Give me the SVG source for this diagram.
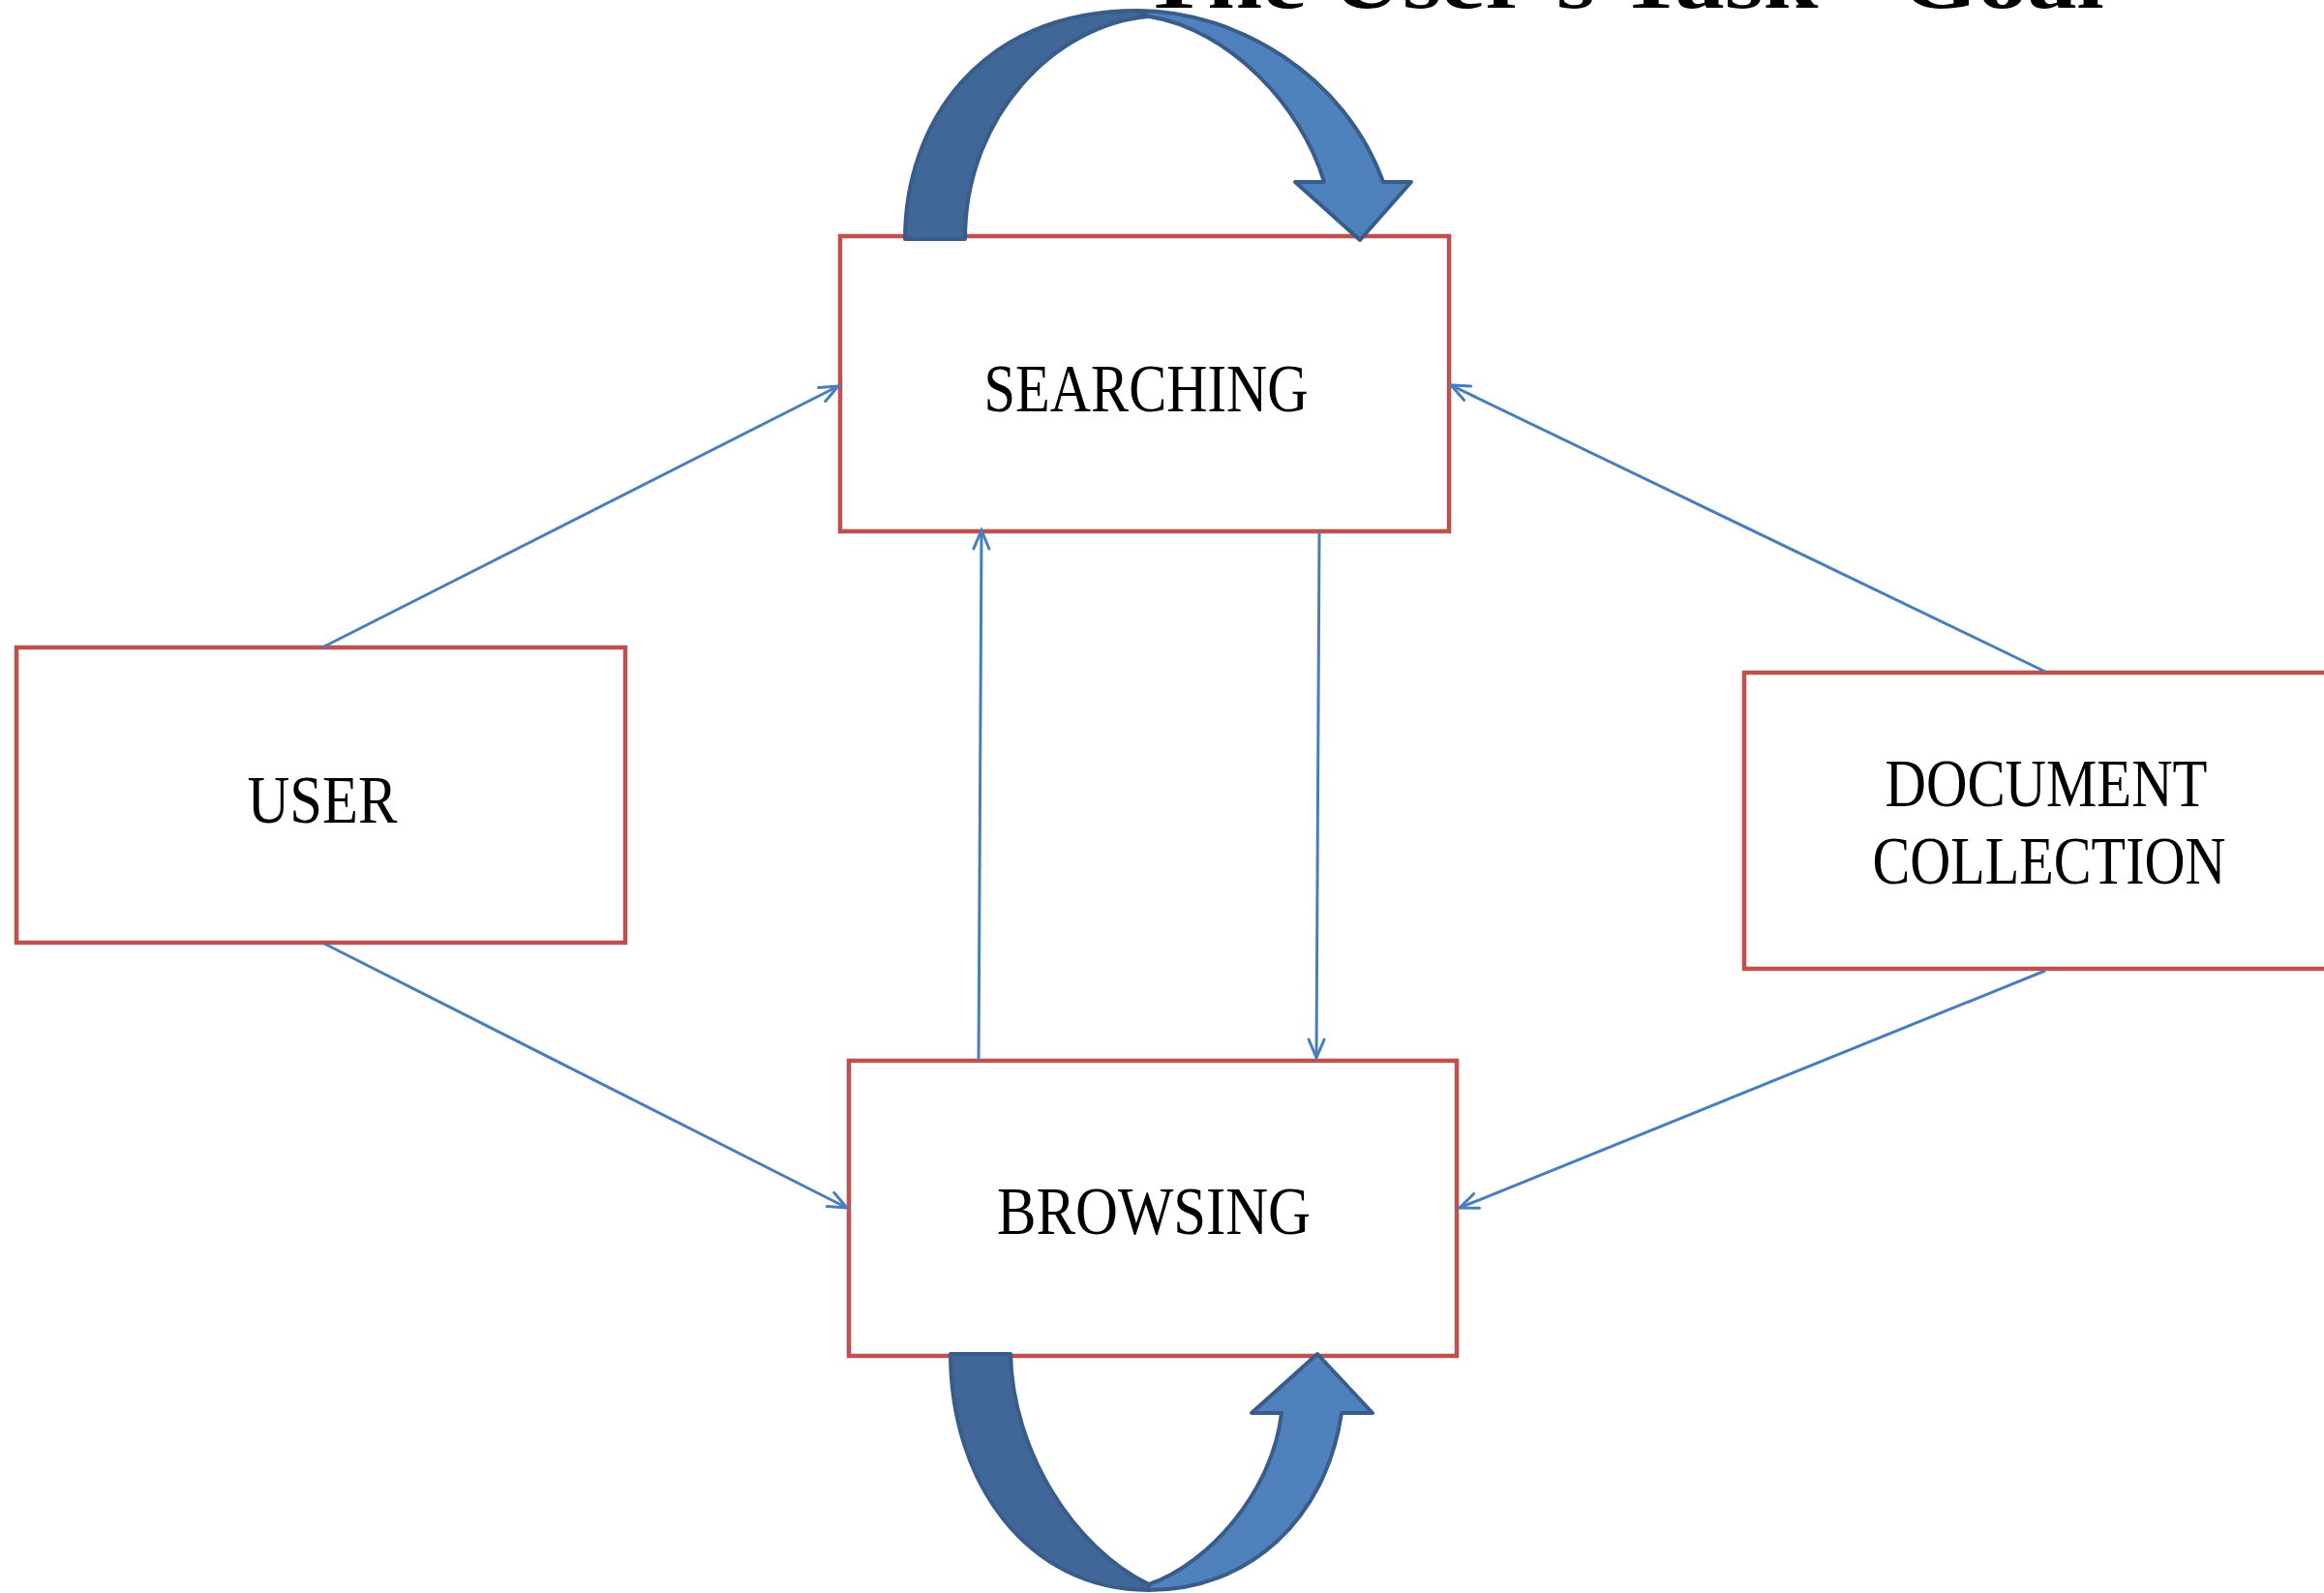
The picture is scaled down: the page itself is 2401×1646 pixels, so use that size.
<svg xmlns="http://www.w3.org/2000/svg" width="2401" height="1646" viewBox="0 0 2401 1646">
<style>
.box{fill:#ffffff;stroke:#C0504D;stroke-width:4.5}
.lbl{font-family:"Liberation Serif","Times New Roman",serif;font-size:70px;fill:#000;text-anchor:middle}
.con{stroke:#4A7EBB;stroke-width:3;fill:none}
.dark{fill:#406797;stroke:#385D8A;stroke-width:4;stroke-linejoin:round}
.light{fill:#4F81BD;stroke:#385D8A;stroke-width:4;stroke-linejoin:round}
.title{font-family:"Liberation Serif","Times New Roman",serif;font-weight:bold;font-size:80px;fill:#000}
</style>
<defs>
<marker id="arr" markerUnits="userSpaceOnUse" viewBox="-22 -12 26 24" markerWidth="26" markerHeight="24" refX="0" refY="0" orient="auto">
<path d="M-19,-8 L0,0 L-19,8" fill="none" stroke="#4A7EBB" stroke-width="3" stroke-linecap="round"/>
</marker>
</defs>
<rect width="2401" height="1646" fill="#ffffff"/>
<text class="title" x="1179" y="8" textLength="995" lengthAdjust="spacingAndGlyphs">The User's Task - Goal</text>
<g id="searching">
<rect class="box" x="868" y="244" width="629" height="305"/>
<text class="lbl" x="1184" y="425" textLength="335" lengthAdjust="spacingAndGlyphs">SEARCHING</text>
</g>
<g id="user">
<rect class="box" x="17" y="669" width="629" height="305"/>
<text class="lbl" x="333" y="850" textLength="155" lengthAdjust="spacingAndGlyphs">USER</text>
</g>
<g id="browsing">
<rect class="box" x="877" y="1096" width="628" height="305"/>
<text class="lbl" x="1192" y="1275" textLength="324" lengthAdjust="spacingAndGlyphs">BROWSING</text>
</g>
<g id="document-collection">
<rect class="box" x="1802" y="695" width="629" height="306"/>
<text class="lbl" x="2114" y="833" textLength="333" lengthAdjust="spacingAndGlyphs">DOCUMENT</text>
<text class="lbl" x="2117" y="913" textLength="365" lengthAdjust="spacingAndGlyphs">COLLECTION</text>
</g>
<g id="connectors">
<line class="con" x1="333" y1="669" x2="866" y2="399" marker-end="url(#arr)"/>
<line class="con" x1="335" y1="975" x2="875" y2="1248" marker-end="url(#arr)"/>
<line class="con" x1="1011" y1="1096" x2="1014" y2="548" marker-end="url(#arr)"/>
<line class="con" x1="1363" y1="550" x2="1360" y2="1093" marker-end="url(#arr)"/>
<line class="con" x1="2113" y1="694" x2="1499" y2="398" marker-end="url(#arr)"/>
<line class="con" x1="2113" y1="1003" x2="1508" y2="1248" marker-end="url(#arr)"/>
</g>
<g id="loop-searching">
<path class="dark" d="M935,247 C935,130 1010,11 1175,11 L1187,17 C1090,25 997,120 997,247 Z"/>
<path class="light" d="M1175,11 C1280,11 1390,80 1429,188 L1458,188 L1405,248 L1338,188 L1368,188 C1345,110 1270,30 1187,17 Z"/>
</g>
<g id="loop-browsing">
<path class="dark" d="M982,1399 L1044,1399 C1046,1500 1110,1600 1187,1637 L1187,1643 C1060,1643 982,1530 982,1399 Z"/>
<path class="light" d="M1187,1637 C1250,1615 1315,1540 1324,1460 L1293,1460 L1361,1399 L1418,1460 L1386,1460 C1370,1570 1290,1643 1187,1643 Z"/>
</g>
</svg>
